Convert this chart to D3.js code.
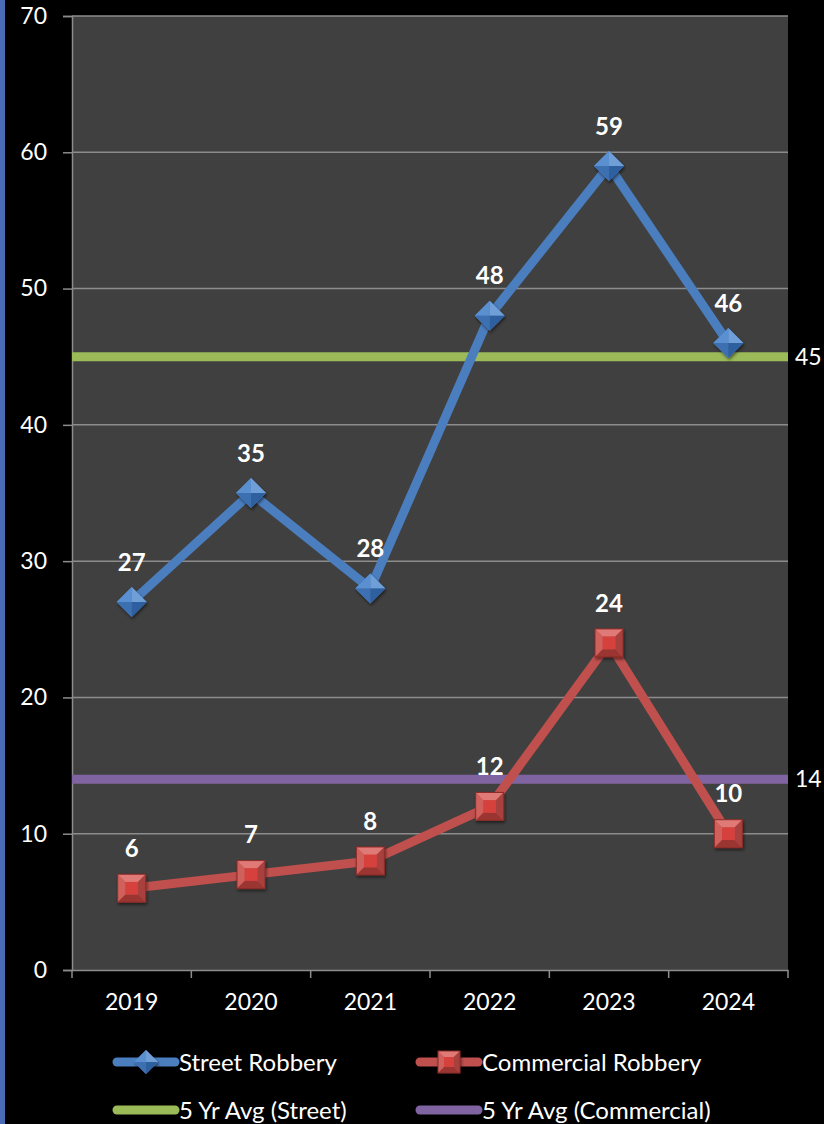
<!DOCTYPE html>
<html><head><meta charset="utf-8">
<script src="https://cdn.jsdelivr.net/npm/d3@7"></script>
<style>
html,body{margin:0;padding:0;background:#000;}
svg{display:block;}
text{font-family:Lato,"Open Sans",sans-serif;}
</style></head>
<body>
<script>
const years = ["2019","2020","2021","2022","2023","2024"];
const streetRobbery = [27,35,28,48,59,46];
const commercialRobbery = [6,7,8,12,24,10];
const avgStreet = 45;
const avgCommercial = 14;
const yTicks = [0,10,20,30,40,50,60,70];

const W=824,H=1124;
const svg=d3.select("body").append("svg").attr("width",W).attr("height",H);
svg.append("rect").attr("width",W).attr("height",H).attr("fill","#000");
svg.append("rect").attr("x",0).attr("y",0).attr("width",5).attr("height",H).attr("fill","#4a6bb5");

const L=72,R=788,T=16,B=970;
const x=d3.scaleBand().domain(years).range([L,R]);
const y=d3.scaleLinear().domain([0,70]).range([B,T]);
const cx=d=>x(d)+x.bandwidth()/2;

const defs=svg.append("defs");
const dg=defs.append("filter").attr("id","sh").attr("x","-50%").attr("y","-50%").attr("width","200%").attr("height","200%");
dg.append("feDropShadow").attr("dx",1).attr("dy",2).attr("stdDeviation",1.5).attr("flood-color","#000").attr("flood-opacity",0.5);

svg.append("rect").attr("x",L).attr("y",T).attr("width",R-L).attr("height",B-T).attr("fill","#404040");

// gridlines
svg.append("g").selectAll("line").data(yTicks.filter(t=>t>0)).join("line")
  .attr("x1",L).attr("x2",R).attr("y1",d=>y(d)).attr("y2",d=>y(d))
  .attr("stroke","#8c8c8c").attr("stroke-width",1.5);

// y axis
const ya=svg.append("g").attr("transform",`translate(${L},0)`)
  .call(d3.axisLeft(y).tickValues(yTicks).tickSize(9).tickPadding(16));
ya.select(".domain").attr("stroke","#8c8c8c").attr("stroke-width",1.5);
ya.selectAll(".tick line").attr("stroke","#8c8c8c").attr("stroke-width",1.5);
ya.selectAll("text").attr("fill","#fff").attr("font-size",23).attr("font-family","Lato, sans-serif");

// x axis
const xa=svg.append("g").attr("transform",`translate(0,${B})`)
  .call(d3.axisBottom(x).tickSize(0).tickPadding(24));
xa.select(".domain").attr("stroke","#8c8c8c").attr("stroke-width",1.5);
xa.selectAll("text").attr("fill","#fff").attr("font-size",23).attr("font-family","Lato, sans-serif");
const bounds=years.map(d=>x(d)).concat([R]);
svg.append("g").selectAll("line").data(bounds).join("line")
  .attr("x1",d=>d).attr("x2",d=>d).attr("y1",B).attr("y2",B+8)
  .attr("stroke","#8c8c8c").attr("stroke-width",1.5);

// avg lines
const avgs=[{v:avgStreet,c:"#9bbb59"},{v:avgCommercial,c:"#8064a2"}];
avgs.forEach(a=>{
  svg.append("line").attr("x1",L).attr("x2",R).attr("y1",y(a.v)).attr("y2",y(a.v))
    .attr("stroke",a.c).attr("stroke-width",9);
  svg.append("text").attr("x",R+7).attr("y",y(a.v)).attr("dy","0.36em")
    .attr("fill","#fff").attr("font-size",23).text(a.v);
});

const line=d3.line().x((d,i)=>cx(years[i])).y(d=>y(d));

function diamond(g,px,py,s,base){
  const h=s/2;
  const gg=g.append("g").attr("transform",`translate(${px},${py})`).attr("filter","url(#sh)");
  gg.append("path").attr("d",`M0,${-h}L${h},0L0,${h}L${-h},0Z`).attr("fill",base);
  gg.append("path").attr("d",`M0,${-h}L${h},0L0,0Z`).attr("fill","#6f9fd8");
  gg.append("path").attr("d",`M0,${-h}L${-h},0L0,0Z`).attr("fill","#5a8fd0");
  gg.append("path").attr("d",`M${-h},0L0,${h}L0,0Z`).attr("fill","#3e6fb0");
  gg.append("path").attr("d",`M${h},0L0,${h}L0,0Z`).attr("fill","#2f5e9e");
}
function square(g,px,py,s){
  const h=s/2,i=h*0.45;
  const gg=g.append("g").attr("transform",`translate(${px},${py})`).attr("filter","url(#sh)");
  gg.append("rect").attr("x",-h).attr("y",-h).attr("width",s).attr("height",s).attr("fill","#c0504d");
  gg.append("path").attr("d",`M${-h},${-h}L${h},${-h}L${i},${-i}L${-i},${-i}Z`).attr("fill","#e07a76");
  gg.append("path").attr("d",`M${-h},${-h}L${-i},${-i}L${-i},${i}L${-h},${h}Z`).attr("fill","#d0605c");
  gg.append("path").attr("d",`M${h},${-h}L${h},${h}L${i},${i}L${i},${-i}Z`).attr("fill","#a8403d");
  gg.append("path").attr("d",`M${-h},${h}L${h},${h}L${i},${i}L${-i},${i}Z`).attr("fill","#9a3633");
  gg.append("rect").attr("x",-i).attr("y",-i).attr("width",2*i).attr("height",2*i).attr("fill","#d6403c");
  gg.append("rect").attr("x",-h).attr("y",-h).attr("width",s).attr("height",s).attr("fill","none").attr("stroke","#8a2a28").attr("stroke-width",1);
}

// series
const series=[
  {data:streetRobbery,c:"#4a7ebf",m:"d"},
  {data:commercialRobbery,c:"#c0504d",m:"s"}
];
series.forEach(s=>{
  svg.append("path").datum(s.data).attr("d",line).attr("fill","none")
    .attr("stroke",s.c).attr("stroke-width",9).attr("stroke-linejoin","round");
});
series.forEach(s=>{
  const g=svg.append("g");
  s.data.forEach((v,i)=>{
    if(s.m==="d") diamond(g,cx(years[i]),y(v),30,"#4a7ebf");
    else square(g,cx(years[i]),y(v),28);
  });
  svg.append("g").selectAll("text").data(s.data).join("text")
    .attr("x",(d,i)=>cx(years[i])).attr("y",d=>y(d)-40).attr("dy","0.36em")
    .attr("text-anchor","middle").attr("fill","#fff").attr("font-size",24).attr("font-weight","bold")
    .text(d=>d);
});

// legend
const leg=[
  {t:"Street Robbery",c:"#4a7ebf",m:"d",x:117,y:1062},
  {t:"Commercial Robbery",c:"#c0504d",m:"s",x:420,y:1062},
  {t:"5 Yr Avg (Street)",c:"#9bbb59",m:null,x:117,y:1110},
  {t:"5 Yr Avg (Commercial)",c:"#8064a2",m:null,x:420,y:1110}
];
leg.forEach(l=>{
  const g=svg.append("g");
  g.append("line").attr("x1",l.x).attr("x2",l.x+58).attr("y1",l.y).attr("y2",l.y)
    .attr("stroke",l.c).attr("stroke-width",9).attr("stroke-linecap","round");
  if(l.m==="d") diamond(g,l.x+29,l.y,24,l.c);
  if(l.m==="s") square(g,l.x+29,l.y,22);
  g.append("text").attr("x",l.x+62).attr("y",l.y).attr("dy","0.36em")
    .attr("fill","#fff").attr("font-size",24).text(l.t);
});
</script>
</body></html>
